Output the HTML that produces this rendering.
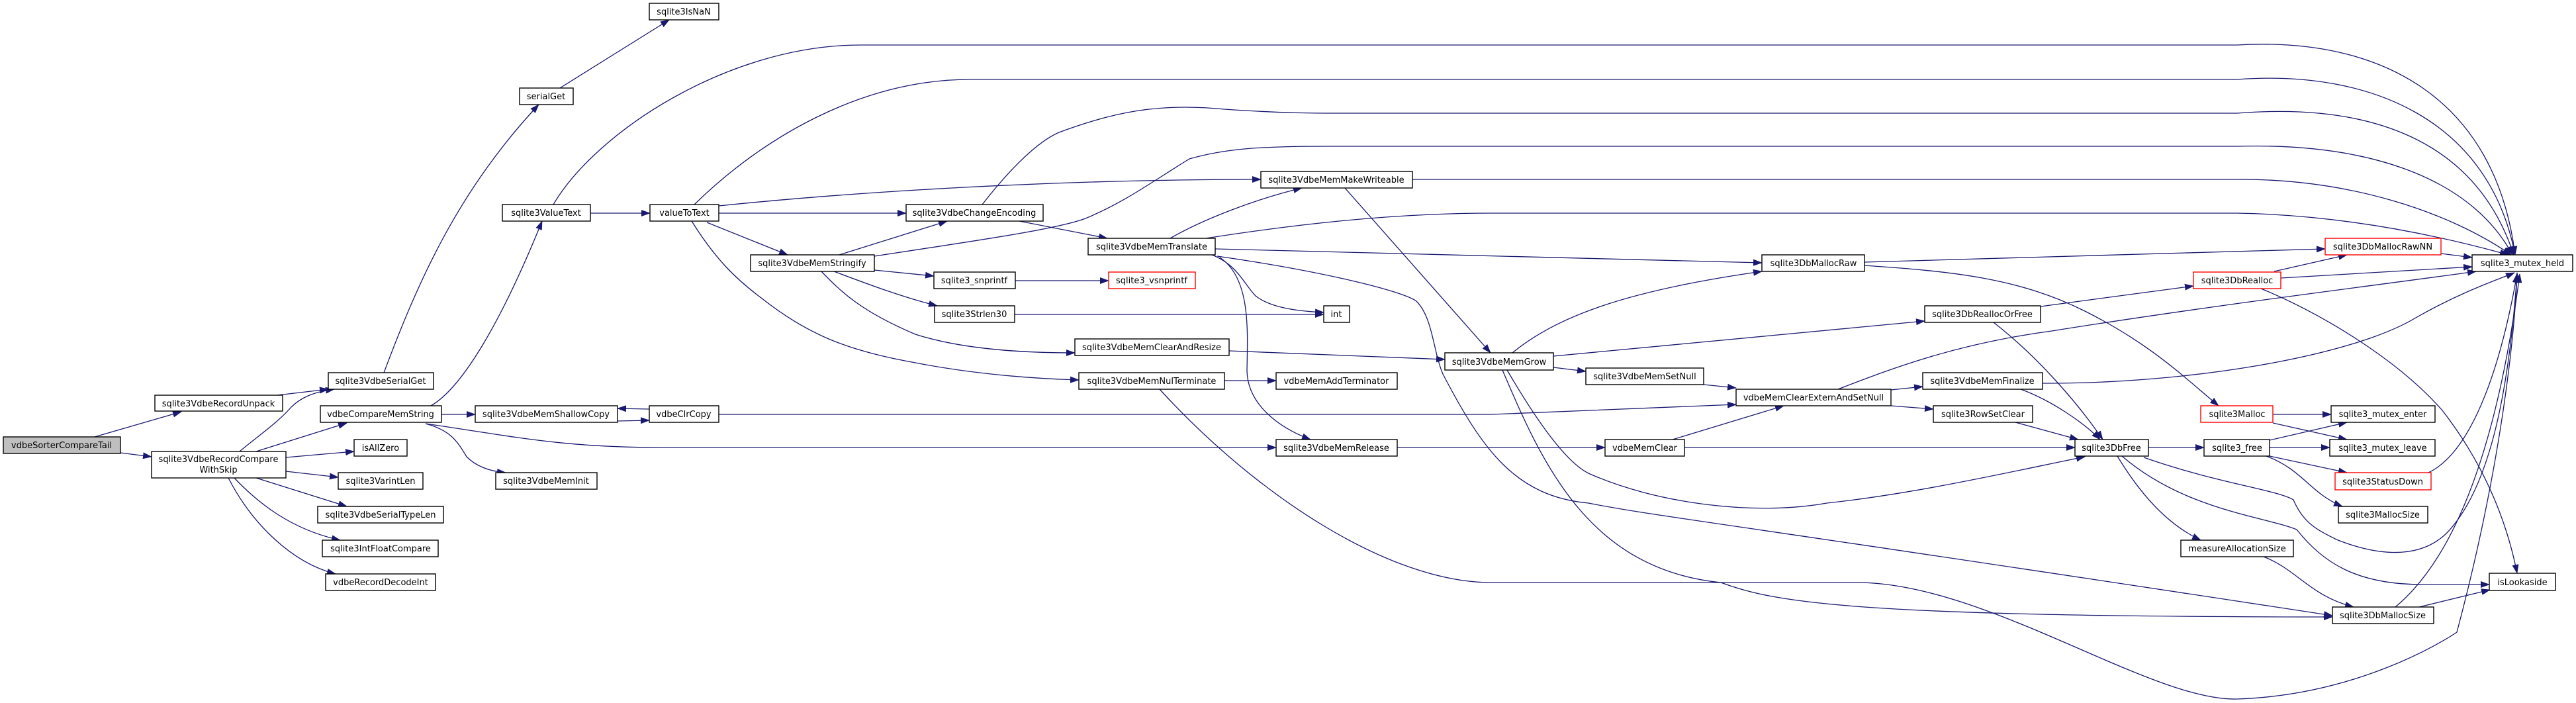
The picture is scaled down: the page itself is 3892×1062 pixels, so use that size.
<!DOCTYPE html>
<html><head><meta charset="utf-8"><style>
html,body{margin:0;padding:0;background:#fff;}
svg{display:block;}
text{font-family:"DejaVu Sans","Liberation Sans",sans-serif;font-size:13px;fill:#000;text-anchor:middle;}
.n{fill:#fff;stroke:#000;stroke-width:1.4;}
.r{fill:#fff;stroke:#ff0000;stroke-width:1.4;}
.g{fill:#bfbfbf;stroke:#000;stroke-width:1.4;}
path{fill:none;stroke:#191970;stroke-width:1.3;marker-end:url(#a);}
</style></head><body>
<svg width="3892" height="1062" viewBox="0 0 3892 1062" xmlns="http://www.w3.org/2000/svg">
<defs><marker id="a" markerUnits="userSpaceOnUse" markerWidth="14" markerHeight="10" refX="13" refY="5" orient="auto"><polygon points="0,0 14,5 0,10" fill="#191970"/></marker></defs>
<g>
<path d="M143,660 L274,622"/>
<path d="M182,684 L229,690"/>
<path d="M419,597 L496,588"/>
<path d="M362,682 C392,657 420,638 440,615 C455,600 475,592 505,588"/>
<path d="M387,682 L524,639"/>
<path d="M432,691 L535,682"/>
<path d="M432,712 L511,721"/>
<path d="M387,722 L524,765"/>
<path d="M354,722 C390,760 440,800 514,816"/>
<path d="M345,722 C380,790 440,850 507,867"/>
<path d="M643,640 C780,660 850,676 1000,676 L1928,676"/>
<path d="M643,640 C680,650 690,665 705,690 C720,705 740,712 764,714"/>
<path d="M667,626 L718,626"/>
<path d="M651,613 C700,585 760,480 819,334"/>
<path d="M580,563 C630,430 690,290 814,158"/>
<path d="M846,133 L1011,30"/>
<path d="M892,322 L982,322"/>
<path d="M836,309 C900,200 1100,68 1300,68 L3380,68 C3600,55 3770,150 3800,385"/>
<path d="M1049,309 C1150,210 1300,120 1466,120 L3380,120 C3580,105 3760,180 3800,385"/>
<path d="M1484,309 C1530,250 1570,213 1600,200 C1680,170 1750,155 1850,165 C1950,172 2000,171 2050,171 L3380,171 C3580,155 3740,210 3798,385"/>
<path d="M1321,387 C1500,360 1600,345 1640,330 C1700,305 1740,275 1797,240 C1850,225 1900,221 2005,221 L3380,221 C3600,215 3740,280 3796,385"/>
<path d="M2134,271 L3380,271 C3550,270 3700,320 3794,385"/>
<path d="M1822,360 C1950,340 2100,322 2253,322 L3380,322 C3550,325 3700,360 3790,385"/>
<path d="M1086,311 C1300,289 1600,271 1905,271"/>
<path d="M1086,322 L1369,322"/>
<path d="M1068,336 L1190,385"/>
<path d="M1045,334 C1080,390 1110,420 1150,450 C1220,505 1280,530 1383,548 C1470,565 1560,572 1630,574"/>
<path d="M1268,385 L1431,334"/>
<path d="M1321,408 L1411,417"/>
<path d="M1260,410 C1300,425 1360,448 1416,462"/>
<path d="M1241,410 C1270,440 1300,470 1383,505 C1460,530 1560,533 1624,533"/>
<path d="M1534,424 L1675,424"/>
<path d="M1533,475 L2000,475"/>
<path d="M1540,334 L1673,360"/>
<path d="M1768,360 C1820,330 1900,300 1967,284"/>
<path d="M1831,385 C1870,400 1880,430 1897,447 C1920,465 1960,470 2000,472"/>
<path d="M1843,389 C1890,420 1885,500 1884,560 C1885,610 1930,645 1980,664"/>
<path d="M1839,387 C2000,410 2120,440 2140,455 C2165,480 2165,530 2180,565 C2240,680 2290,750 2400,760 C2500,780 2600,789 3524,930"/>
<path d="M1836,376 C2200,385 2500,393 2662,397"/>
<path d="M2032,284 L2252,533"/>
<path d="M1857,530 L2183,543"/>
<path d="M1850,575 L1928,575"/>
<path d="M1752,588 C1900,750 2100,880 2253,880 L2806,880 C3000,880 3250,1060 3380,1056 C3560,1050 3690,970 3712,955 C3780,700 3800,500 3803,412"/>
<path d="M2270,559 C2330,700 2400,860 2600,880 C2680,910 2800,932 3524,932"/>
<path d="M2285,533 C2350,480 2450,440 2662,410"/>
<path d="M2347,538 L2908,485"/>
<path d="M2347,555 L2396,561"/>
<path d="M2277,559 C2330,650 2370,700 2400,715 C2500,760 2650,780 2760,760 C2900,745 3050,710 3150,690"/>
<path d="M2574,581 L2623,586"/>
<path d="M2527,664 L2695,613"/>
<path d="M2545,676 L3135,676"/>
<path d="M2111,676 L2425,676"/>
<path d="M981,618 L933,617"/>
<path d="M933,636 L981,635"/>
<path d="M1086,626 L2253,626 C2400,620 2550,615 2623,611"/>
<path d="M2777,588 C2850,560 2950,520 3100,500 C3350,460 3600,430 3741,410"/>
<path d="M2857,589 L2905,584"/>
<path d="M2857,613 L2921,618"/>
<path d="M3086,579 C3300,580 3550,540 3650,480 C3720,440 3780,420 3799,412"/>
<path d="M3053,588 C3100,605 3150,640 3173,664"/>
<path d="M3045,638 L3140,664"/>
<path d="M3083,463 L3314,432"/>
<path d="M3012,487 C3080,540 3140,610 3177,664"/>
<path d="M2817,396 L3513,376"/>
<path d="M2817,401 C2950,410 3050,420 3150,470 C3250,520 3300,570 3352,613"/>
<path d="M3436,410 L3546,385"/>
<path d="M3446,420 L3735,403"/>
<path d="M3416,436 C3500,470 3620,540 3690,620 C3760,710 3790,800 3803,866"/>
<path d="M3688,383 L3735,389"/>
<path d="M3434,626 L3522,626"/>
<path d="M3434,639 L3546,664"/>
<path d="M3246,676 L3330,676"/>
<path d="M3199,689 C3230,740 3270,790 3325,816"/>
<path d="M3206,689 C3300,770 3420,780 3470,800 C3510,850 3560,883 3660,883 L3761,883"/>
<path d="M3239,691 C3350,730 3440,740 3465,755 C3480,790 3500,800 3530,815 C3580,835 3650,850 3696,806 C3760,740 3790,600 3803,414"/>
<path d="M3420,841 C3470,860 3490,900 3556,917"/>
<path d="M3429,665 L3546,638"/>
<path d="M3429,676 L3520,676"/>
<path d="M3429,689 L3546,714"/>
<path d="M3424,689 C3480,710 3490,745 3539,765"/>
<path d="M3669,714 C3720,690 3770,600 3803,414"/>
<path d="M3655,917 L3762,891"/>
<path d="M3619,917 C3700,850 3770,700 3807,414"/>
</g>
<g>
<rect class="g" x="5" y="660" width="177" height="25"/><text x="93" y="677">vdbeSorterCompareTail</text>
<rect class="n" x="234" y="597" width="193" height="24"/><text x="330" y="614">sqlite3VdbeRecordUnpack</text>
<rect class="n" x="229" y="682" width="203" height="40"/><text x="330" y="698">sqlite3VdbeRecordCompare</text><text x="330" y="714">WithSkip</text>
<rect class="n" x="496" y="563" width="159" height="25"/><text x="575" y="580">sqlite3VdbeSerialGet</text>
<rect class="n" x="484" y="613" width="183" height="25"/><text x="575" y="630">vdbeCompareMemString</text>
<rect class="n" x="535" y="664" width="80" height="25"/><text x="575" y="681">isAllZero</text>
<rect class="n" x="511" y="714" width="128" height="25"/><text x="575" y="731">sqlite3VarintLen</text>
<rect class="n" x="480" y="765" width="190" height="25"/><text x="575" y="782">sqlite3VdbeSerialTypeLen</text>
<rect class="n" x="487" y="816" width="175" height="25"/><text x="575" y="833">sqlite3IntFloatCompare</text>
<rect class="n" x="492" y="867" width="166" height="25"/><text x="575" y="884">vdbeRecordDecodeInt</text>
<rect class="n" x="785" y="133" width="81" height="25"/><text x="825" y="150">serialGet</text>
<rect class="n" x="981" y="5" width="105" height="25"/><text x="1033" y="22">sqlite3IsNaN</text>
<rect class="n" x="759" y="309" width="133" height="25"/><text x="825" y="326">sqlite3ValueText</text>
<rect class="n" x="982" y="309" width="104" height="25"/><text x="1034" y="326">valueToText</text>
<rect class="n" x="718" y="613" width="215" height="25"/><text x="825" y="630">sqlite3VdbeMemShallowCopy</text>
<rect class="n" x="981" y="613" width="105" height="25"/><text x="1033" y="630">vdbeClrCopy</text>
<rect class="n" x="749" y="714" width="153" height="25"/><text x="825" y="731">sqlite3VdbeMemInit</text>
<rect class="n" x="1134" y="385" width="187" height="25"/><text x="1227" y="402">sqlite3VdbeMemStringify</text>
<rect class="n" x="1369" y="309" width="207" height="25"/><text x="1472" y="326">sqlite3VdbeChangeEncoding</text>
<rect class="n" x="1905" y="259" width="229" height="25"/><text x="2019" y="276">sqlite3VdbeMemMakeWriteable</text>
<rect class="n" x="1644" y="360" width="192" height="25"/><text x="1740" y="377">sqlite3VdbeMemTranslate</text>
<rect class="n" x="1411" y="411" width="123" height="25"/><text x="1472" y="428">sqlite3_snprintf</text>
<rect class="r" x="1675" y="411" width="131" height="25"/><text x="1740" y="428">sqlite3_vsnprintf</text>
<rect class="n" x="1412" y="462" width="121" height="25"/><text x="1472" y="479">sqlite3Strlen30</text>
<rect class="n" x="2000" y="462" width="39" height="25"/><text x="2019" y="479">int</text>
<rect class="n" x="1624" y="512" width="233" height="25"/><text x="1740" y="529">sqlite3VdbeMemClearAndResize</text>
<rect class="n" x="1630" y="563" width="220" height="25"/><text x="1740" y="580">sqlite3VdbeMemNulTerminate</text>
<rect class="n" x="1928" y="563" width="183" height="25"/><text x="2019" y="580">vdbeMemAddTerminator</text>
<rect class="n" x="2183" y="533" width="164" height="26"/><text x="2265" y="551">sqlite3VdbeMemGrow</text>
<rect class="n" x="2396" y="556" width="178" height="25"/><text x="2485" y="573">sqlite3VdbeMemSetNull</text>
<rect class="n" x="1928" y="664" width="183" height="25"/><text x="2019" y="681">sqlite3VdbeMemRelease</text>
<rect class="n" x="2425" y="664" width="120" height="25"/><text x="2485" y="681">vdbeMemClear</text>
<rect class="n" x="2662" y="385" width="155" height="25"/><text x="2740" y="402">sqlite3DbMallocRaw</text>
<rect class="r" x="3513" y="360" width="175" height="25"/><text x="3600" y="377">sqlite3DbMallocRawNN</text>
<rect class="n" x="3735" y="385" width="152" height="25"/><text x="3811" y="402">sqlite3_mutex_held</text>
<rect class="r" x="3314" y="411" width="132" height="25"/><text x="3380" y="428">sqlite3DbRealloc</text>
<rect class="n" x="2908" y="462" width="175" height="25"/><text x="2995" y="479">sqlite3DbReallocOrFree</text>
<rect class="n" x="2623" y="588" width="234" height="25"/><text x="2740" y="605">vdbeMemClearExternAndSetNull</text>
<rect class="n" x="2905" y="563" width="181" height="25"/><text x="2995" y="580">sqlite3VdbeMemFinalize</text>
<rect class="n" x="2921" y="613" width="150" height="25"/><text x="2996" y="630">sqlite3RowSetClear</text>
<rect class="r" x="3325" y="613" width="109" height="25"/><text x="3380" y="630">sqlite3Malloc</text>
<rect class="n" x="3522" y="613" width="157" height="25"/><text x="3600" y="630">sqlite3_mutex_enter</text>
<rect class="n" x="3135" y="664" width="111" height="25"/><text x="3190" y="681">sqlite3DbFree</text>
<rect class="n" x="3330" y="664" width="99" height="25"/><text x="3380" y="681">sqlite3_free</text>
<rect class="n" x="3520" y="664" width="159" height="25"/><text x="3600" y="681">sqlite3_mutex_leave</text>
<rect class="r" x="3528" y="714" width="145" height="26"/><text x="3600" y="732">sqlite3StatusDown</text>
<rect class="n" x="3533" y="765" width="135" height="25"/><text x="3600" y="782">sqlite3MallocSize</text>
<rect class="n" x="3295" y="816" width="170" height="25"/><text x="3380" y="833">measureAllocationSize</text>
<rect class="n" x="3761" y="866" width="100" height="26"/><text x="3811" y="884">isLookaside</text>
<rect class="n" x="3524" y="917" width="153" height="25"/><text x="3600" y="934">sqlite3DbMallocSize</text>
</g>
</svg>
</body></html>
